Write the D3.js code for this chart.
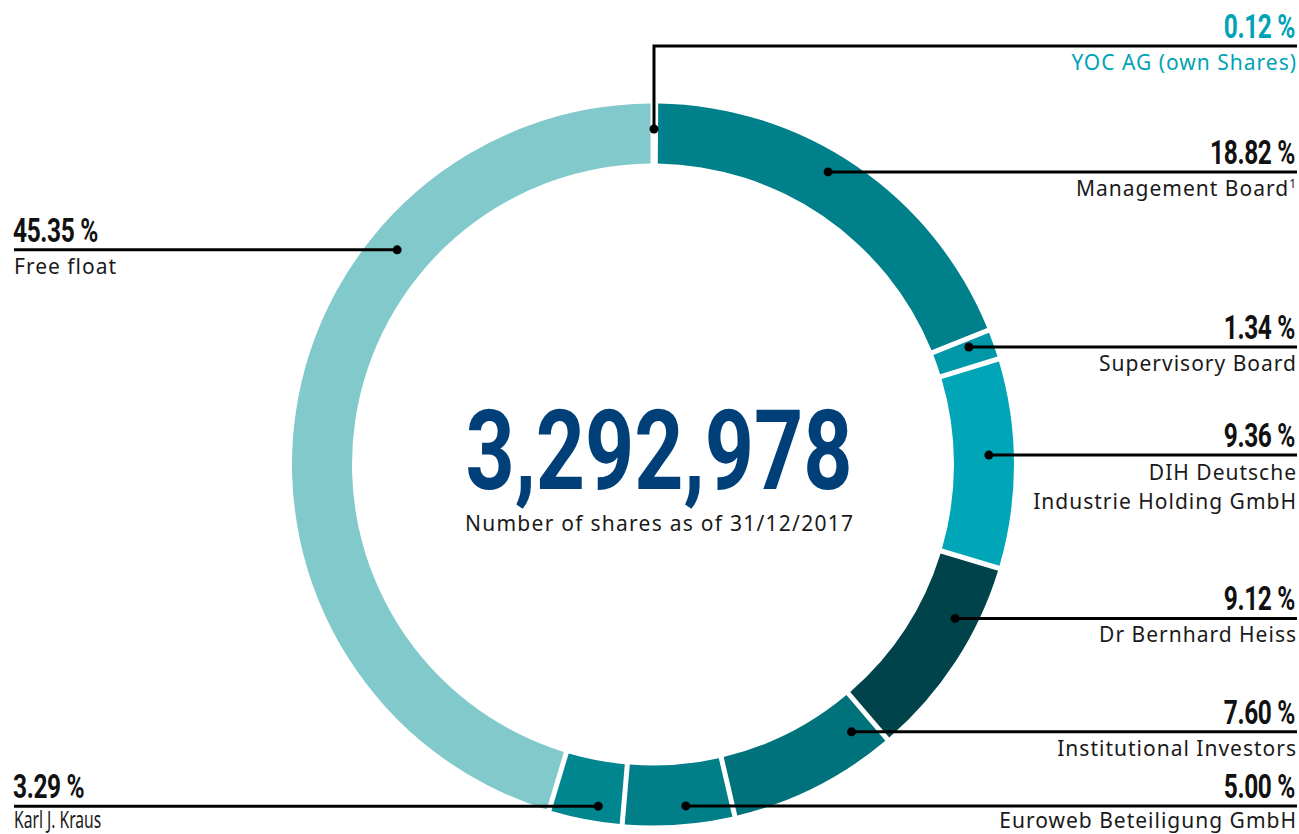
<!DOCTYPE html>
<html><head><meta charset="utf-8">
<script src="https://cdn.jsdelivr.net/npm/d3@7"></script>
<style>body{margin:0;background:#fff}svg{display:block}</style>
</head><body>
<svg id="c" width="1299" height="834"></svg>
<script>
// ---- data ----
const categories = ["YOC AG (own Shares)","Management Board","Supervisory Board","DIH Deutsche Industrie Holding GmbH","Dr Bernhard Heiss","Institutional Investors","Euroweb Beteiligung GmbH","Karl J. Kraus","Free float"];
const labelLines = [["YOC AG (own Shares)"],["Management Board"],["Supervisory Board"],["DIH Deutsche","Industrie Holding GmbH"],["Dr Bernhard Heiss"],["Institutional Investors"],["Euroweb Beteiligung GmbH"],["Karl J. Kraus"],["Free float"]];
const footnotes = ["","1","","","","","","",""];
const shares = [0.12,18.82,1.34,9.36,9.12,7.60,5.00,3.29,45.35];
const totalShares = 3292978;
const subtitle = "Number of shares as of 31/12/2017";

// ---- styles / layout ----
const colors = ["#00a3b5","#00808b","#0097a9","#00a5b8","#00434b","#00727c","#007f89","#00868f","#82c9cc"];
const anchorAngle = [0.17,30.9,69.6,88.4,117,143.4,174.5,189.1,310]; // degrees, clockwise from top
const anchorRadius = [335.5,341,337,336,339,333,343,346,334];
const side = ["R","R","R","R","R","R","R","L","L"];

const W=1299,H=834,cx=653,cy=464.5,R=361,r0=301;
const svg=d3.select("#c");
const g=svg.append("g").attr("transform",`translate(${cx},${cy})`);
const pie=d3.pie().sort(null).value(d=>d).startAngle(0).endAngle(2*Math.PI);
const arc=d3.arc().innerRadius(r0).outerRadius(R).padAngle(5/R).padRadius(R);
g.selectAll("path.s").data(pie(shares)).join("path").attr("class","s")
 .attr("d",arc).attr("fill",(d,i)=>colors[i]);

// center text
const fmt=d3.format(",");
svg.append("text").attr("x",cx+6).attr("y",489).attr("text-anchor","middle")
 .attr("font-family","Roboto, 'DejaVu Sans'").attr("font-weight",700).attr("font-size",112)
 .attr("fill","#003f78").attr("textLength",387).attr("lengthAdjust","spacingAndGlyphs")
 .text(fmt(totalShares));
svg.append("text").attr("x",cx+6).attr("y",531).attr("text-anchor","middle")
 .attr("font-family","'Noto Sans'").attr("font-size",21).attr("fill","#1a1a1a")
 .attr("textLength",388).attr("lengthAdjust","spacing")
 .text(subtitle);

const pctFmt=v=>v.toFixed(2)+" %";
const leftX=14,rightX=1297;
const lab=svg.append("g");
shares.forEach((v,i)=>{
  const a=anchorAngle[i]*Math.PI/180, rr=anchorRadius[i];
  const dx=cx+rr*Math.sin(a), dy=cy-rr*Math.cos(a);
  const isYoc=i===0;
  const lineY=isYoc?46:dy;
  const col=isYoc?"#00a3b5":"#111";
  if(isYoc){
    lab.append("path").attr("d",`M${dx},${dy}V${lineY}H${rightX}`).attr("fill","none").attr("stroke","#000").attr("stroke-width",3);
  } else {
    const x0=side[i]==="R"?dx:leftX, x1=side[i]==="R"?rightX:dx;
    lab.append("line").attr("x1",x0).attr("x2",x1).attr("y1",lineY).attr("y2",lineY).attr("stroke","#000").attr("stroke-width",3);
  }
  lab.append("circle").attr("cx",dx).attr("cy",dy).attr("r",4.5).attr("fill","#000");
  const tx=side[i]==="R"?1296:leftX, anchor=side[i]==="R"?"end":"start";
  lab.append("g").attr("transform",`translate(${tx-1},${lineY-8}) scale(0.72,1)`)
    .append("text").attr("text-anchor",anchor).attr("font-family","Roboto").attr("font-weight",700)
    .attr("font-size",34).attr("fill",col).attr("letter-spacing",-0.5).text(pctFmt(v));
  const cond = categories[i]==="Karl J. Kraus";
  labelLines[i].forEach((ln,k)=>{
    const by=Math.min(lineY+24+k*29+(labelLines[i].length>1?1:0), 828);
    const gg=lab.append("g").attr("transform",`translate(${tx+(side[i]==="R"?1:0)},${by}) scale(${cond?0.68:1},1)`);
    const t=gg.append("text").attr("text-anchor",anchor).attr("font-family","'Noto Sans'")
      .attr("font-size",cond?23:21).attr("letter-spacing",cond?0:1).attr("fill",isYoc?"#00a3b5":"#1a1a1a").text(ln);
    if(footnotes[i] && k===labelLines[i].length-1){
      t.append("tspan").attr("font-size",12).attr("dy",-8).text(footnotes[i]);
    }
  });
});
</script>
</body></html>
